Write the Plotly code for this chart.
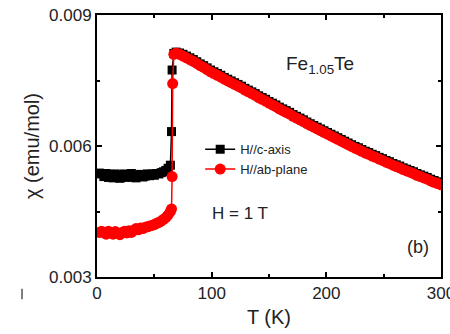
import plotly.graph_objects as go

# ---- data ----
T_low = [2, 4, 6, 8, 10, 12, 14, 16, 18, 20, 22, 24, 26, 28, 30, 32,
         34, 36, 38, 40, 42, 44, 46, 48, 50, 52, 54, 56, 58, 60, 62, 64]
T_high = [67, 69, 72, 75, 78, 81, 84, 87, 90, 93, 96, 99, 102, 105, 108, 111,
          114, 117, 120, 123, 126, 129, 132, 135, 138, 141, 144, 147, 150, 153,
          156, 159, 162, 165, 168, 171, 174, 177, 180, 183, 186, 189, 192, 195,
          198, 201, 204, 207, 210, 213, 216, 219, 222, 225, 228, 231, 234, 237,
          240, 243, 246, 249, 252, 255, 258, 261, 264, 267, 270, 273, 276, 279,
          282, 285, 288, 291, 294, 297, 300]

T_c_jump = [65, 65.5]
chi_c_low = [0.00538, 0.00536, 0.00530, 0.00537, 0.00528, 0.00535, 0.00527, 0.00536,
             0.00533, 0.00526, 0.00530, 0.00536, 0.00528, 0.00532, 0.00537, 0.00529,
             0.00527, 0.00533, 0.00535, 0.00529, 0.00531, 0.00536, 0.00532, 0.00536,
             0.00533, 0.00537, 0.00536, 0.00539, 0.00541, 0.00544, 0.00549, 0.00556]
chi_c_jump = [0.00633, 0.00774]
chi_c_high = [0.00812, 0.00815, 0.00813, 0.00810, 0.00806, 0.00802, 0.00798, 0.00793,
              0.00788, 0.00784, 0.00779, 0.00774, 0.00770, 0.00766, 0.00762, 0.00757,
              0.00753, 0.00749, 0.00745, 0.00741, 0.00737, 0.00732, 0.00728, 0.00724,
              0.00720, 0.00715, 0.00711, 0.00707, 0.00702, 0.00698, 0.00694, 0.00689,
              0.00685, 0.00681, 0.00677, 0.00672, 0.00668, 0.00664, 0.00660, 0.00655,
              0.00651, 0.00647, 0.00643, 0.00639, 0.00635, 0.00631, 0.00627, 0.00623,
              0.00619, 0.00615, 0.00611, 0.00607, 0.00603, 0.00599, 0.00596, 0.00592,
              0.00588, 0.00585, 0.00581, 0.00578, 0.00574, 0.00571, 0.00567, 0.00564,
              0.00560, 0.00557, 0.00554, 0.00550, 0.00547, 0.00544, 0.00541, 0.00537,
              0.00534, 0.00531, 0.00528, 0.00524, 0.00521, 0.00518, 0.00515]

T_ab_jump = [65, 65.5, 66]
chi_ab_low = [0.00402, 0.00405, 0.00401, 0.00398, 0.00405, 0.00401, 0.00398, 0.00404,
              0.00400, 0.00397, 0.00402, 0.00405, 0.00401, 0.00406, 0.00402, 0.00407,
              0.00411, 0.00408, 0.00412, 0.00411, 0.00414, 0.00415, 0.00417, 0.00418,
              0.00420, 0.00423, 0.00425, 0.00428, 0.00432, 0.00436, 0.00442, 0.00450]
chi_ab_jump = [0.00456, 0.00530, 0.00743]
chi_ab_high = [0.00810, 0.00813, 0.00810, 0.00806, 0.00802, 0.00798, 0.00794, 0.00789,
               0.00784, 0.00780, 0.00775, 0.00770, 0.00766, 0.00762, 0.00758, 0.00753,
               0.00749, 0.00745, 0.00741, 0.00737, 0.00733, 0.00728, 0.00724, 0.00720,
               0.00716, 0.00711, 0.00707, 0.00703, 0.00698, 0.00694, 0.00690, 0.00685,
               0.00681, 0.00677, 0.00673, 0.00668, 0.00664, 0.00660, 0.00656, 0.00651,
               0.00647, 0.00643, 0.00639, 0.00635, 0.00631, 0.00627, 0.00623, 0.00619,
               0.00615, 0.00611, 0.00607, 0.00603, 0.00599, 0.00595, 0.00592, 0.00588,
               0.00584, 0.00581, 0.00577, 0.00574, 0.00570, 0.00567, 0.00563, 0.00560,
               0.00556, 0.00553, 0.00550, 0.00546, 0.00543, 0.00540, 0.00537, 0.00533,
               0.00530, 0.00527, 0.00524, 0.00520, 0.00517, 0.00514, 0.00511]

x_ticks = [0, 100, 200, 300]
y_ticks = [0.003, 0.006, 0.009]
y_tick_labels = ["0.003", "0.006", "0.009"]

FONT = "Liberation Sans, Arial, sans-serif"
TXT = "#222222"

fig = go.Figure()
fig.add_trace(go.Scatter(
    x=T_low + T_c_jump + T_high, y=chi_c_low + chi_c_jump + chi_c_high,
    mode="lines+markers", name="H//c-axis",
    line=dict(color="black", width=1.5),
    marker=dict(symbol="square", size=9, color="black"),
))
fig.add_trace(go.Scatter(
    x=T_low + T_ab_jump + T_high, y=chi_ab_low + chi_ab_jump + chi_ab_high,
    mode="lines+markers", name="H//ab-plane",
    line=dict(color="red", width=1.5),
    marker=dict(symbol="circle", size=11, color="red"),
))

axis_common = dict(
    showline=True, linecolor="black", linewidth=2, mirror="ticks",
    ticks="inside", ticklen=5, tickwidth=1.5, tickcolor="black",
    showgrid=False, zeroline=False, ticklabeloverflow="allow", automargin=False,
    tickfont=dict(family=FONT, size=17, color=TXT),
)
fig.update_xaxes(range=[0, 300], tickvals=x_ticks,
                 minor=dict(ticks="inside", dtick=50, ticklen=3, tickcolor="black", tickwidth=1.5),
                 title=dict(text="T (K)", font=dict(family=FONT, size=20, color=TXT), standoff=8),
                 **axis_common)
fig.update_yaxes(range=[0.003, 0.009], tickvals=y_ticks, ticktext=y_tick_labels,
                 minor=dict(ticks="inside", dtick=0.0015, ticklen=3, tickcolor="black", tickwidth=1.5),
                 title=dict(text="χ (emu/mol)", font=dict(family=FONT, size=20, color=TXT), standoff=4),
                 **axis_common)

fig.add_annotation(x=0.648, y=0.809, xref="paper", yref="paper", showarrow=False,
                   xanchor="center", yanchor="middle",
                   text="Fe<sub>1.05</sub>Te", font=dict(family=FONT, size=19, color=TXT))
fig.add_annotation(x=0.416, y=0.244, xref="paper", yref="paper", showarrow=False,
                   xanchor="center", yanchor="middle",
                   text="H = 1 T", font=dict(family=FONT, size=17, color=TXT))
fig.add_annotation(x=0.933, y=0.115, xref="paper", yref="paper", showarrow=False,
                   xanchor="center", yanchor="middle",
                   text="(b)", font=dict(family=FONT, size=18, color=TXT))

# small stray mark at the lower left of the original panel
fig.add_shape(type="line", xref="paper", yref="paper",
              x0=-0.218, x1=-0.218, y0=-0.045, y1=-0.085,
              line=dict(color="#555555", width=1.5))

fig.update_layout(
    width=450, height=334,
    margin=dict(l=97, r=9, t=15, b=57, autoexpand=False),
    paper_bgcolor="white", plot_bgcolor="white",
    showlegend=True,
    legend=dict(x=0.30, y=0.545, xanchor="left", yanchor="top",
                bgcolor="rgba(0,0,0,0)", font=dict(family=FONT, size=13, color=TXT),
                itemwidth=30, tracegroupgap=0),
)

fig.write_html("out.html")
